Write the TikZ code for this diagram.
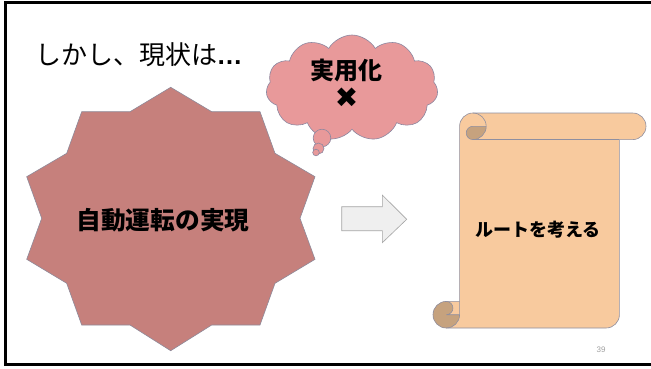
\documentclass[tikz,border=0pt]{standalone}
\usepackage{fontspec}
\newfontfamily\jp{Noto Sans CJK JP}
\newfontfamily\dv{DejaVu Sans}
\newfontfamily\lib{Liberation Sans}
\usetikzlibrary{shapes.symbols}
\definecolor{starfill}{HTML}{C6807C}
\definecolor{starline}{HTML}{8E8A9A}
\definecolor{cloudfill}{HTML}{E8999A}
\definecolor{cloudline}{HTML}{8C87A0}
\definecolor{scrollfill}{HTML}{F8CA9E}
\definecolor{scrolldark}{HTML}{C6A27E}
\definecolor{scrollline}{HTML}{8F8FA0}
\definecolor{arrowfill}{HTML}{EFEFEF}
\definecolor{arrowline}{HTML}{A5A5A5}
\definecolor{pagenum}{HTML}{A0A0A0}
\begin{document}
\begin{tikzpicture}[x=1pt,y=-1pt,
  frameline/.style={line width=2.7pt,line join=miter},
  starshape/.style={fill=starfill,draw=starline,line width=0.6pt,line join=miter},
  cloudshape/.style={fill=cloudfill,draw=cloudline,line width=0.6pt},
  scrollbody/.style={fill=scrollfill},
  scrollcurl/.style={fill=scrolldark},
  scrollstroke/.style={draw=scrollline,line width=0.6pt},
  arrowshape/.style={fill=arrowfill,draw=arrowline,line width=0.6pt,line join=miter},
  jptext/.style={inner sep=0pt,font=\jp\bfseries\fontsize{#1}{#1}\selectfont}]
\useasboundingbox (0,0) rectangle (651,368);
\fill[white] (0,0) rectangle (651,368);
% frame
\draw[frameline] (655,2.5) -- (5.3,2.5) -- (5.3,364.7) -- (655,364.7);
% title
\node[anchor=west,inner sep=0pt,font=\jp\fontsize{26}{26}\selectfont] (title) at (35.5,54.5)
  {しかし、現状は{\lib\bfseries\kern-1pt …}};
% star
\filldraw[starshape] (170.7,87.3) -- (211.7,111.7) -- (260,111.7) -- (275,153.3)
  -- (315,176.7) -- (300,218.3) -- (315,259.3) -- (275,283.3) -- (260,325)
  -- (211.7,325) -- (170.7,350.7) -- (130,325) -- (81.7,325) -- (66.7,283.3)
  -- (26.7,259.3) -- (41.7,218.3) -- (26.7,176.7) -- (66.7,153.3) -- (81.7,111.7)
  -- (130,111.7) -- cycle;
\node[jptext=24.7] (startext) at (163,220.5) {自動運転の実現};
% cloud
\node[cloud,cloud puffs=11,cloud puff arc=120,minimum width=172pt,
  minimum height=106pt,inner sep=0pt,cloudshape] (cloud) at (352,88) {};
\filldraw[cloudshape] (322,138) circle[radius=8.8];
\filldraw[cloudshape] (318.5,148.5) circle[radius=5.5];
\filldraw[cloudshape] (316,152.5) circle[radius=3.3];
\node[jptext=24] (cloudtext) at (346,70.5) {実用化};
\node[inner sep=0pt,font=\dv\fontsize{28}{28}\selectfont] (cross) at (346.5,97.5) {✖};
% arrow
\filldraw[arrowshape] (341.7,206.7) -- (382.3,206.7) -- (382.3,195) -- (406.7,219.3)
  -- (382.3,242.7) -- (382.3,230.7) -- (341.7,230.7) -- cycle;
% scroll
\fill[scrollbody] (459.6,301.4) -- (459.6,126.3)
  arc[start angle=180,delta angle=90,radius=13.3] -- (632.7,113)
  arc[start angle=270,delta angle=180,radius=13.3] -- (619.4,139.6) -- (619.4,314.7)
  arc[start angle=0,delta angle=90,radius=13.3] -- (446.3,328)
  arc[start angle=90,delta angle=180,radius=13.3] -- cycle;
\fill[scrollcurl] (486.2,126.3) arc[start angle=0,delta angle=90,radius=13.3]
  arc[start angle=90,delta angle=180,radius=6.65] -- cycle;
\fill[scrollcurl] (459.6,314.7) arc[start angle=0,delta angle=270,radius=13.3]
  arc[start angle=270,delta angle=180,radius=6.65] -- cycle;
\draw[scrollstroke] (459.6,301.4) -- (459.6,126.3)
  arc[start angle=180,delta angle=90,radius=13.3] -- (632.7,113)
  arc[start angle=270,delta angle=180,radius=13.3] -- (619.4,139.6) -- (619.4,314.7)
  arc[start angle=0,delta angle=90,radius=13.3] -- (446.3,328)
  arc[start angle=90,delta angle=180,radius=13.3] -- cycle;
\draw[scrollstroke] (472.9,113) arc[start angle=270,delta angle=180,radius=13.3]
  arc[start angle=90,delta angle=180,radius=6.65] -- (486.2,126.3);
\draw[scrollstroke] (619.4,139.6) -- (472.9,139.6);
\draw[scrollstroke] (446.3,301.4) arc[start angle=270,delta angle=180,radius=6.65]
  -- (459.6,314.7);
\draw[scrollstroke] (446.3,328) arc[start angle=90,delta angle=-90,radius=13.3]
  -- (459.6,301.4);
\node[jptext=18] (scrolltext) at (538,230) {ルートを考える};
% page number
\node[inner sep=0pt,font=\lib\fontsize{8}{8}\selectfont,text=pagenum] (page) at (601,349.5) {39};
\end{tikzpicture}
\end{document}
